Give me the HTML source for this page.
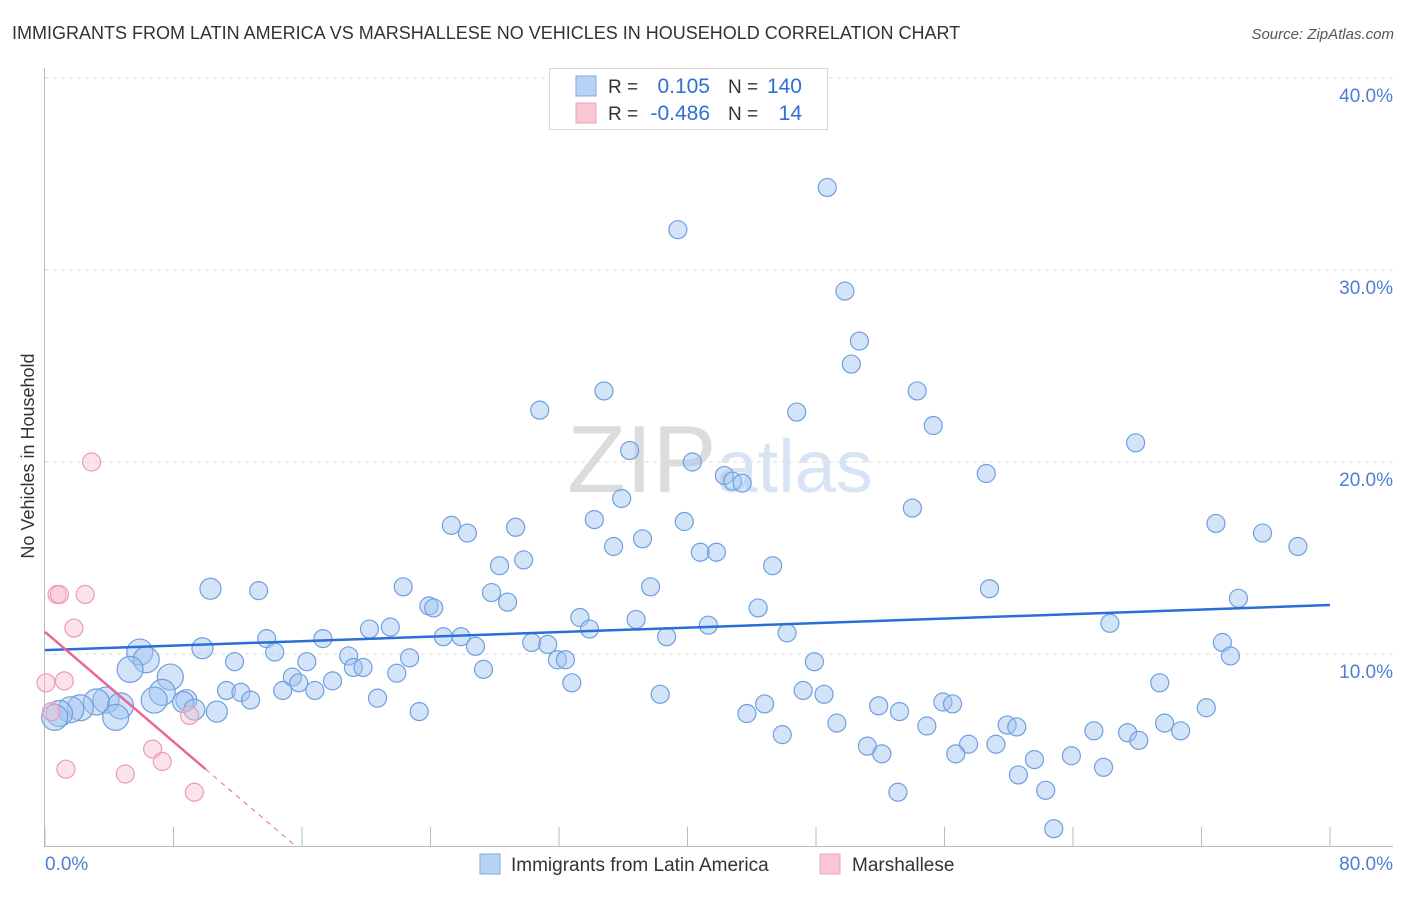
<!DOCTYPE html>
<html><head><meta charset="utf-8">
<style>
body{margin:0;background:#fff;font-family:"Liberation Sans",sans-serif;}
svg text{font-family:"Liberation Sans",sans-serif;}
</style></head>
<body>
<svg id="chart" width="1406" height="892" viewBox="0 0 1406 892" xmlns="http://www.w3.org/2000/svg">
<text x="12" y="39" font-size="18" fill="#333">IMMIGRANTS FROM LATIN AMERICA VS MARSHALLESE NO VEHICLES IN HOUSEHOLD CORRELATION CHART</text>
<text x="1394" y="39" font-size="15" fill="#555" text-anchor="end" font-style="italic">Source: ZipAtlas.com</text>
<text transform="translate(34,456) rotate(-90)" font-size="18" fill="#333" text-anchor="middle">No Vehicles in Household</text>
<g id="grid"></g>
<text x="720" y="492" font-size="96" text-anchor="middle" fill="#e4e4e4" font-family="Liberation Serif"><tspan fill="#dcdcdc">ZIP</tspan><tspan fill="#d6e4f4" font-family="Liberation Sans" font-size="74">atlas</tspan></text>
<g id="points"></g>
<g id="lines"></g>
<g>
<rect x="549.5" y="68.5" width="278" height="61" fill="#fff" stroke="#d8d8d8"/>
<rect x="576" y="76" width="20" height="20" fill="#b9d3f5" stroke="#7ea9e6"/>
<rect x="576" y="103" width="20" height="20" fill="#f9c6d4" stroke="#eea0b8"/>
<text x="608" y="93" font-size="19" fill="#333">R =</text>
<text x="710" y="93" font-size="21" fill="#2f6fd6" text-anchor="end">0.105</text>
<text x="728" y="93" font-size="19" fill="#333">N =</text>
<text x="802" y="93" font-size="21" fill="#2f6fd6" text-anchor="end">140</text>
<text x="608" y="120" font-size="19" fill="#333">R =</text>
<text x="710" y="120" font-size="21" fill="#2f6fd6" text-anchor="end">-0.486</text>
<text x="728" y="120" font-size="19" fill="#333">N =</text>
<text x="802" y="120" font-size="21" fill="#2f6fd6" text-anchor="end">14</text>
</g>
<g>
<rect x="480" y="854" width="20" height="20" fill="#b9d3f5" stroke="#7ea9e6"/>
<text x="511" y="871" font-size="19" fill="#333">Immigrants from Latin America</text>
<rect x="820" y="854" width="20" height="20" fill="#f9c6d4" stroke="#eea0b8"/>
<text x="852" y="871" font-size="19" fill="#333">Marshallese</text>
</g>
</svg>
<script>
const blueX=[48.7,39.4,49.8,50.7,50.2,34.8,54.3,30.8,46.8,55.3,67.9,36.4,40.3,42.3,42.8,43.4,58.6,35.9,54.0,34.2,39.8,25.3,29.3,26.3,72.9,75.8,78.0,37.2,35.4,40.8,41.8,29.8,28.3,45.3,37.7,22.3,27.8,58.8,10.3,13.3,74.3,28.8,23.9,24.2,44.4,33.3,36.8,66.3,41.3,21.5,20.2,33.9,46.2,24.8,25.9,38.7,17.3,13.8,30.3,31.3,73.3,26.8,9.8,14.3,5.9,73.8,18.9,22.7,6.3,11.8,16.3,31.9,32.4,47.9,5.3,19.2,19.8,27.3,21.9,15.4,7.8,32.8,69.4,17.9,15.8,14.8,11.3,16.8,12.2,7.3,47.2,48.5,38.3,20.7,12.8,8.8,6.8,8.6,3.8,3.2,55.9,56.5,51.9,44.8,72.3,4.7,9.3,2.2,1.6,53.2,23.3,10.7,43.7,0.9,4.4,0.6,49.3,59.9,60.5,54.9,69.7,70.7,65.3,67.4,45.9,68.1,57.5,59.2,51.2,52.1,56.7,63.9,61.6,65.9,60.6,53.1,62.3,62.8];
const blueY=[34.3,32.1,28.9,26.3,25.1,23.7,23.7,22.7,22.6,21.9,21.0,20.6,20.0,19.3,19.0,18.9,19.4,18.1,17.6,17.0,16.9,16.7,16.6,16.3,16.8,16.3,15.6,16.0,15.6,15.3,15.3,14.9,14.6,14.6,13.5,13.5,13.2,13.4,13.4,13.3,12.9,12.7,12.5,12.4,12.4,11.9,11.8,11.6,11.5,11.4,11.3,11.3,11.1,10.9,10.9,10.9,10.8,10.8,10.6,10.5,10.6,10.4,10.3,10.1,10.1,9.9,9.9,9.8,9.7,9.6,9.6,9.7,9.7,9.6,9.2,9.3,9.3,9.2,9.0,8.8,8.8,8.5,8.5,8.6,8.5,8.1,8.1,8.1,8.0,8.0,8.1,7.9,7.9,7.7,7.6,7.6,7.6,7.5,7.6,7.5,7.5,7.4,7.3,7.4,7.2,7.3,7.1,7.2,7.1,7.0,7.0,7.0,6.9,6.9,6.7,6.7,6.4,6.3,6.2,6.25,6.4,6.0,6.0,5.9,5.8,5.5,5.3,5.3,5.2,4.8,4.8,4.7,4.5,4.1,3.7,2.8,2.9,0.9];
const pinkX=[2.9,0.75,0.9,2.5,1.8,0.06,1.2,0.4,9.0,6.7,7.3,1.3,5.0,9.3];
const pinkY=[20.0,13.1,13.1,13.1,11.35,8.5,8.6,7.0,6.8,5.05,4.4,4.0,3.75,2.8];
const blueTrend=[10.2,12.55]; // y at x=0 and x=80
const pinkTrend=[11.15,4.0];  // y at x=0 and x=10
const yTicks=[10,20,30,40];
const xTickLabels=["0.0%","80.0%"];
const NS="http://www.w3.org/2000/svg";
const X=v=>45+v*(1330-45)/80;
const Y=v=>846-v*19.2;
function mk(t,a,p){const e=document.createElementNS(NS,t);for(const k in a)e.setAttribute(k,a[k]);p.appendChild(e);return e;}
const grid=document.getElementById('grid');
yTicks.forEach(t=>{
  const l=mk('line',{x1:45,x2:1393,y1:Y(t),y2:Y(t),stroke:'#dddddd','stroke-dasharray':'4,4'},grid);
  
  
  const tx=mk('text',{x:1393,y:Y(t)+24,'font-size':19,fill:'#4a7fd4','text-anchor':'end'},grid);
  tx.textContent=t.toFixed(1)+'%';
  
  
});
mk('line',{x1:44.5,x2:44.5,y1:68,y2:846,stroke:'#bbb'},grid);
mk('line',{x1:44,x2:1393,y1:846.5,y2:846.5,stroke:'#bbb'},grid);
for(let i=0;i<=10;i++){const tk=mk('line',{x1:X(i*8),x2:X(i*8),y1:827,y2:846,stroke:'#bbb'},grid);
  
  }
const xl0=mk('text',{x:45,y:870,'font-size':19,fill:'#4a7fd4'},grid);xl0.textContent=xTickLabels[0];


const xl1=mk('text',{x:1393,y:870,'font-size':19,fill:'#4a7fd4','text-anchor':'end'},grid);xl1.textContent=xTickLabels[1];


const pts=document.getElementById('points');
blueX.forEach((x,i)=>{const r=x<8?13:(x<11?10.5:9);
  const c=mk('circle',{cx:X(x),cy:Y(blueY[i]),r:r,fill:'rgba(160,196,240,0.45)',stroke:'#6f9fe0','stroke-width':1.2},pts);
  
  });
pinkX.forEach((x,i)=>{
  const c=mk('circle',{cx:X(x),cy:Y(pinkY[i]),r:9,fill:'rgba(248,190,206,0.45)',stroke:'#ec9bb5','stroke-width':1.2},pts);
  
  });
const ln=document.getElementById('lines');
const bl=mk('line',{x1:X(0),y1:Y(blueTrend[0]),x2:X(80),y2:Y(blueTrend[1]),stroke:'#2a6fd6','stroke-width':2.5},ln);


const pl=mk('line',{x1:X(0),y1:Y(pinkTrend[0]),x2:X(10),y2:Y(pinkTrend[1]),stroke:'#e8679a','stroke-width':2.5},ln);


const slope=(pinkTrend[1]-pinkTrend[0])/10, xz=-pinkTrend[0]/slope;
const pd=mk('line',{x1:X(10),y1:Y(pinkTrend[1]),x2:X(xz),y2:Y(0),stroke:'#e8679a','stroke-width':1,'stroke-dasharray':'5,5'},ln);


</script>
</body></html>
